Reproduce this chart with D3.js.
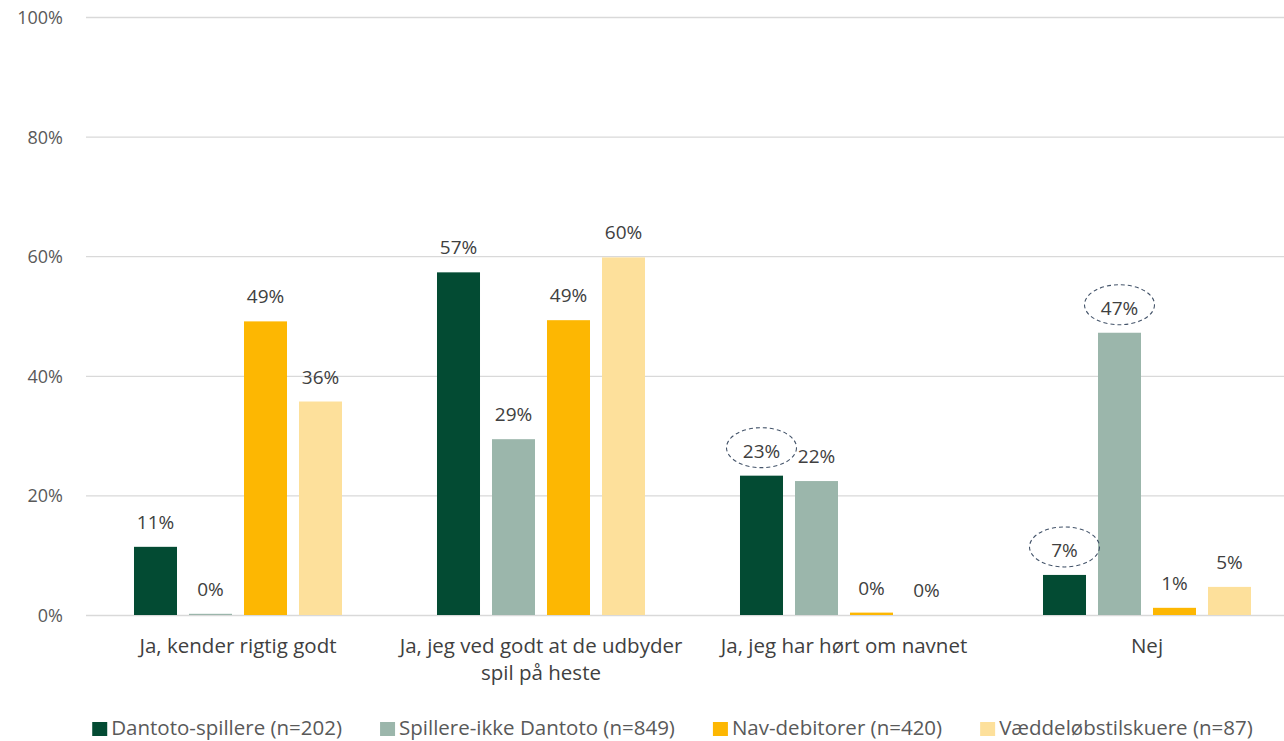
<!DOCTYPE html>
<html>
<head>
<meta charset="utf-8">
<script src="https://cdn.jsdelivr.net/npm/d3@7"></script>
<style>
  html, body { margin: 0; padding: 0; background: #fff; }
  svg { display: block; font-family: "Open Sans", "Liberation Sans", sans-serif; }
</style>
</head>
<body>
<svg id="chart" width="1284" height="741"></svg>
<script>
// Answer categories (x axis)
const categories = [
  ["Ja, kender rigtig godt"],
  ["Ja, jeg ved godt at de udbyder", "spil på heste"],
  ["Ja, jeg har hørt om navnet"],
  ["Nej"]
];
// Respondent groups (legend)
const seriesNames = [
  "Dantoto-spillere (n=202)",
  "Spillere-ikke Dantoto (n=849)",
  "Nav-debitorer (n=420)",
  "Væddeløbstilskuere (n=87)"
];
// Share per category, one array per group
const dantoto   = [0.114, 0.573, 0.233, 0.067];
const ikkeDanto = [0.002, 0.294, 0.224, 0.472];
const navDeb    = [0.491, 0.493, 0.004, 0.012];
const vaeddel   = [0.357, 0.598, 0.000, 0.047];
const yTicks = [0, 0.2, 0.4, 0.6, 0.8, 1.0];
// Labels circled with a dashed ring: [category index, series index]
const highlighted = [[2, 0], [3, 1], [3, 0]];

const seriesValues = [dantoto, ikkeDanto, navDeb, vaeddel];
const colors = ["#034b33", "#9bb6ab", "#fdb702", "#fde09b"];

const svg = d3.select("#chart");
const W = 1284;

const x0 = d3.scaleBand()
  .domain(d3.range(categories.length))
  .range([86.5, 1298.5])
  .paddingInner(0.3135)
  .paddingOuter(0.3135 / 2);
const x1 = d3.scaleBand()
  .domain(d3.range(seriesNames.length))
  .range([0, x0.bandwidth()])
  .paddingInner(0.218);
const y = d3.scaleLinear().domain([0, 1]).range([615, 17]);
const fmt = d3.format(".0%");

// Gridlines and y tick labels
const yAxis = svg.append("g")
  .attr("transform", "translate(86,0)")
  .call(d3.axisLeft(y).tickValues(yTicks).tickFormat(fmt).tickSize(-(W - 86)).tickPadding(23));
yAxis.select(".domain").remove();
yAxis.selectAll(".tick line").attr("stroke", "#d9d9d9").attr("stroke-width", 1.3);
yAxis.selectAll(".tick text")
  .attr("fill", "#595959")
  .attr("dy", "0.36em")
  .style("font-size", "18px")
  .style("font-family", "'Open Sans', sans-serif");

// Bars
const groups = svg.append("g").selectAll("g")
  .data(categories.map((c, i) => i))
  .join("g")
  .attr("transform", i => `translate(${x0(i)},0)`);

groups.selectAll("rect")
  .data(ci => seriesValues.map((arr, si) => ({ ci, si, v: arr[ci] })))
  .join("rect")
  .attr("x", d => x1(d.si))
  .attr("width", x1.bandwidth())
  .attr("y", d => y(d.v))
  .attr("height", d => y(0) - y(d.v))
  .attr("fill", d => colors[d.si]);

// Value labels
groups.selectAll("text.val")
  .data(ci => seriesValues.map((arr, si) => ({ ci, si, v: arr[ci] })))
  .join("text")
  .attr("class", "val")
  .attr("x", d => x1(d.si) + x1.bandwidth() / 2)
  .attr("y", d => y(d.v) - 18)
  .attr("text-anchor", "middle")
  .attr("fill", "#404040")
  .style("font-size", "19px")
  .text(d => fmt(d.v));

// Dashed rings around selected labels
svg.append("g").selectAll("ellipse")
  .data(highlighted)
  .join("ellipse")
  .attr("cx", ([ci, si]) => x0(ci) + x1(si) + x1.bandwidth() / 2)
  .attr("cy", ([ci, si]) => y(seriesValues[si][ci]) - 28)
  .attr("rx", 35)
  .attr("ry", 20)
  .attr("fill", "none")
  .attr("stroke", "#44546a")
  .attr("stroke-width", 1.1)
  .attr("stroke-dasharray", "4,3");

// Category labels
const catG = svg.append("g").selectAll("text")
  .data(categories)
  .join("text")
  .attr("x", (d, i) => x0(i) + x0.bandwidth() / 2)
  .attr("y", 653)
  .attr("text-anchor", "middle")
  .attr("fill", "#404040")
  .style("font-size", "20.5px");
catG.selectAll("tspan")
  .data(d => d)
  .join("tspan")
  .attr("x", function () { return d3.select(this.parentNode).attr("x"); })
  .attr("dy", (d, i) => i === 0 ? 0 : 27)
  .text(d => d);

// Legend
const legend = svg.append("g");
const items = legend.selectAll("g")
  .data(seriesNames)
  .join("g");
items.append("rect")
  .attr("width", 15).attr("height", 14)
  .attr("y", 722)
  .attr("fill", (d, i) => colors[i]);
items.append("text")
  .attr("x", 19)
  .attr("y", 735)
  .attr("fill", "#595959")
  .style("font-size", "20.5px")
  .text(d => d);
let cx = 0;
const gap = 38;
items.each(function () {
  const w = 19 + this.querySelector("text").getComputedTextLength();
  d3.select(this).attr("transform", `translate(${cx},0)`);
  cx += w + gap;
});
const totalW = cx - gap;
legend.attr("transform", `translate(${(87 + 1258) / 2 - totalW / 2},0)`);
</script>
</body>
</html>
